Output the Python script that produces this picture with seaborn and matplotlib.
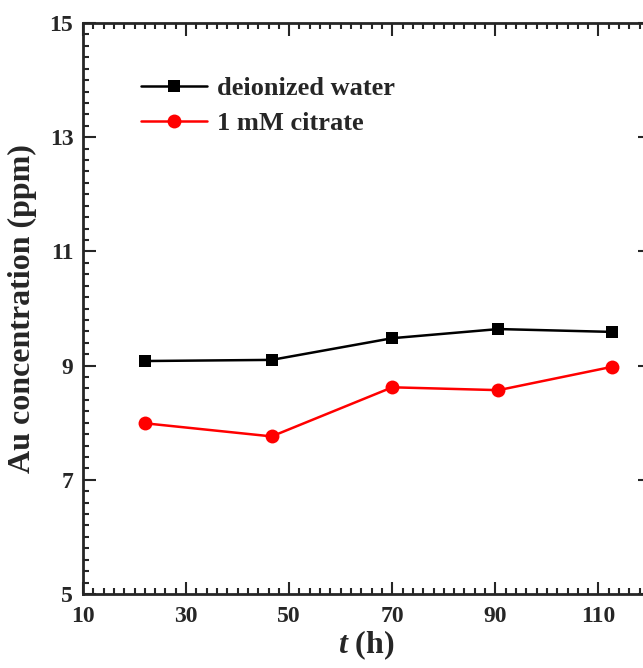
import numpy as np
import pandas as pd
import seaborn as sns
import matplotlib
matplotlib.use('Agg')
import matplotlib.pyplot as plt
from matplotlib.ticker import MultipleLocator

# data
t_hours = [22.0, 46.6, 70.0, 90.6, 112.7]
water = [9.08, 9.10, 9.48, 9.64, 9.59]
citrate = [7.99, 7.76, 8.62, 8.57, 8.98]
labels = ['deionized water', '1 mM citrate']

sns.set_style('ticks')
plt.rcParams['font.family'] = ['Liberation Serif', 'DejaVu Serif']
plt.rcParams['font.weight'] = 'bold'
plt.rcParams['mathtext.fontset'] = 'custom'
plt.rcParams['mathtext.it'] = 'Liberation Serif:italic:bold'
plt.rcParams['mathtext.rm'] = 'Liberation Serif:bold'

fig = plt.figure(figsize=(6.43, 6.68), dpi=100)
ax = fig.add_axes([83 / 643, 74 / 668, 567 / 643, 571 / 668])

sns.lineplot(x=t_hours, y=water, ax=ax, color='black', marker='s', markersize=9,
             markeredgewidth=0, linewidth=1.8, label=labels[0])
sns.lineplot(x=t_hours, y=citrate, ax=ax, color='red', marker='o', markersize=10,
             markeredgewidth=0, linewidth=1.8, label=labels[1])

ax.set_xlim(10, 120)
ax.set_ylim(5, 15)
ax.set_xticks([10, 30, 50, 70, 90, 110])
ax.set_yticks([5, 7, 9, 11, 13, 15])
ax.xaxis.set_minor_locator(MultipleLocator(2))
ax.yaxis.set_minor_locator(MultipleLocator(0.2))
ax.tick_params(which='both', direction='in', top=True, right=True, width=1.5)
ax.tick_params(which='major', length=9, labelsize=17)
ax.tick_params(axis='x', which='major', pad=9)
ax.tick_params(axis='y', which='major', pad=7)
ax.tick_params(which='minor', length=4)
for lab in ax.get_xticklabels() + ax.get_yticklabels():
    lab.set_fontweight('bold')
for sp in ax.spines.values():
    sp.set_linewidth(2)

ax.set_xlabel(r'$t$ (h)', fontsize=23, fontweight='bold', labelpad=1)
ax.set_ylabel('Au concentration (ppm)', fontsize=23, fontweight='bold', labelpad=9)

ax.legend(loc='upper left', bbox_to_anchor=(0.083, 0.925), borderaxespad=0,
          frameon=False, prop={'size': 19, 'weight': 'bold'}, handlelength=2.5,
          handletextpad=0.4, labelspacing=0.45)

fig.savefig('out.png', dpi=100)
